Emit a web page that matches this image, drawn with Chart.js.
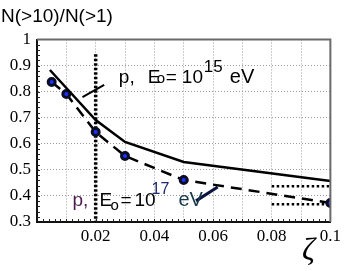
<!DOCTYPE html>
<html>
<head>
<meta charset="utf-8">
<script src="https://cdn.jsdelivr.net/npm/chart.js@4.4.0/dist/chart.umd.min.js"></script>
<style>
  html, body { margin: 0; padding: 0; background: #fff; }
  #wrap { width: 345px; height: 271px; }
</style>
</head>
<body>
<div id="wrap"><canvas id="myChart" width="345" height="271"></canvas></div>
<script>
// values
let zeta_pts = [0.005, 0.01, 0.02, 0.03, 0.05, 0.1];
let ratio_17 = [0.837, 0.791, 0.645, 0.553, 0.461, 0.373];   // dashed + markers (E0=1e17)
let zeta_line = [0.0044, 0.02, 0.03, 0.05, 0.1];
let ratio_15 = [0.883, 0.691, 0.607, 0.530, 0.457];          // solid (E0=1e15)
let vline_x = [0.02, 0.02];
let vline_y = [0.943, 0.3];
let hline_x = [0.08, 0.1];
let hline_hi = [0.437, 0.437];
let hline_lo = [0.368, 0.368];
let ptr1_x = [0.0155, 0.0229];
let ptr1_y = [0.779, 0.826];
let ptr2_x = [0.0542, 0.0616];
let ptr2_y = [0.381, 0.434];
let x_ticks = [0.02, 0.04, 0.06, 0.08, 0.1];
let y_ticks = [0.3, 0.4, 0.5, 0.6, 0.7, 0.8, 0.9, 1];

let serif = "'Liberation Serif', 'DejaVu Serif', 'Times New Roman', serif";
let sans = "'Liberation Sans', Arial, Helvetica, sans-serif";

let toXY = function(xs, ys){
  let out = [];
  for(let i=0;i<xs.length;i++){
    out.push({x: xs[i], y: ys[i]});
  }
  return out;
}

// text annotations anchored in data units, pieces offset in px
let notes = [
  {x: 0.0279, y: 0.833, parts: [
    {t: "p,", dx: 0, dy: 0, s: 19, c: "#000"},
    {t: "E", dx: 29, dy: 0, s: 19, c: "#000"},
    {t: "o", dx: 38, dy: 0, s: 15, c: "#000"},
    {t: "=", dx: 47, dy: 0, s: 19, c: "#000"},
    {t: "10", dx: 63, dy: 0, s: 19, c: "#000"},
    {t: "15", dx: 85, dy: -11, s: 17, c: "#000"},
    {t: "eV", dx: 111, dy: 0, s: 20, c: "#000"}
  ]},
  {x: 0.0121, y: 0.361, parts: [
    {t: "p,", dx: 0, dy: 0, s: 19, c: "#4e1a50"},
    {t: "E", dx: 27, dy: 0, s: 19, c: "#000"},
    {t: "o", dx: 38, dy: 4, s: 15, c: "#000"},
    {t: "=", dx: 48, dy: 0, s: 19, c: "#000"},
    {t: "10", dx: 62, dy: 0, s: 19, c: "#000"},
    {t: "17", dx: 79, dy: -12, s: 16, c: "#1b2a6b"},
    {t: "eV", dx: 106, dy: 0, s: 20, c: "#173a4a"}
  ]}
];

let extras = {
  id: 'extras',
  afterDatasetsDraw(chart){
    let ctx = chart.ctx;
    let xs = chart.scales.x, ys = chart.scales.y;
    let a = chart.chartArea;
    ctx.save();
    // frame top / right
    ctx.strokeStyle = '#6a6a6a';
    ctx.lineWidth = 2;
    ctx.beginPath();
    ctx.moveTo(a.left, a.top);
    ctx.lineTo(a.right, a.top);
    ctx.lineTo(a.right, a.bottom);
    ctx.stroke();
    // minor ticks
    ctx.strokeStyle = '#222';
    ctx.lineWidth = 1;
    ctx.beginPath();
    for(let i=1;i<50;i++){
      let px = Math.round(xs.getPixelForValue(i*0.002)) + 0.5;
      ctx.moveTo(px, a.bottom);
      ctx.lineTo(px, a.bottom - 3);
    }
    for(let i=1;i<35;i++){
      let py = Math.round(ys.getPixelForValue(0.3 + i*0.02)) + 0.5;
      ctx.moveTo(a.left, py);
      ctx.lineTo(a.left + 3, py);
    }
    ctx.stroke();
    // annotations
    ctx.textBaseline = 'alphabetic';
    ctx.textAlign = 'left';
    notes.forEach(function(n){
      let bx = xs.getPixelForValue(n.x), by = ys.getPixelForValue(n.y);
      n.parts.forEach(function(p){
        ctx.font = p.s + 'px ' + sans;
        ctx.fillStyle = p.c;
        ctx.fillText(p.t, bx + p.dx, by + p.dy);
      });
    });
    // axis titles
    ctx.fillStyle = '#000';
    ctx.font = '19px ' + sans;
    ctx.fillText('N(>10)/N(>1)', 1, 22);
    ctx.font = 'italic 32px ' + serif;
    ctx.fillText('ζ', 302, 260);
    ctx.restore();
  }
};

let dotted = [2.5, 2.5];

cur_chart = new Chart(
  document.getElementById('myChart'),
  {
    type: 'line',
    data: {
      datasets: [
        {
          label: 'E0=1e15',
          data: toXY(zeta_line, ratio_15),
          borderColor: '#000',
          borderWidth: 2.5,
          pointRadius: 0,
          tension: 0
        },
        {
          label: 'E0=1e17',
          data: toXY(zeta_pts, ratio_17),
          borderColor: '#000',
          borderWidth: 2.5,
          borderDash: [11, 7],
          pointRadius: 3.5,
          pointBorderWidth: 3,
          pointBorderColor: '#0a0d25',
          pointBackgroundColor: '#1f30ff',
          tension: 0
        },
        {
          label: 'vline',
          data: toXY(vline_x, vline_y),
          borderColor: '#000',
          borderWidth: 3.5,
          borderDash: [2.5, 2],
          pointRadius: 0
        },
        {
          label: 'hhi',
          data: toXY(hline_x, hline_hi),
          borderColor: '#000',
          borderWidth: 2.5,
          borderDash: dotted,
          pointRadius: 0
        },
        {
          label: 'hlo',
          data: toXY(hline_x, hline_lo),
          borderColor: '#000',
          borderWidth: 2.5,
          borderDash: dotted,
          pointRadius: 0
        },
        {
          label: 'ptr1',
          data: toXY(ptr1_x, ptr1_y),
          borderColor: '#000',
          borderWidth: 2,
          pointRadius: 0
        },
        {
          label: 'ptr2',
          data: toXY(ptr2_x, ptr2_y),
          borderColor: '#0d1240',
          borderWidth: 3,
          pointRadius: 0
        }
      ]
    },
    options: {
      responsive: false,
      animation: false,
      events: [],
      layout: { padding: { top: 39.5, right: 11, left: 0, bottom: 0 } },
      plugins: {
        legend: { display: false },
        tooltip: { enabled: false },
        title: { display: false }
      },
      scales: {
        x: {
          type: 'linear',
          min: 0,
          max: 0.1,
          afterFit: function(s){ s.height = 49; },
          afterBuildTicks: function(s){
            let t = [];
            for(let i=0;i<=10;i++){ t.push({value: i/100}); }
            s.ticks = t;
          },
          ticks: {
            padding: 4,
            maxRotation: 0,
            autoSkip: false,
            color: '#000',
            font: { family: serif, size: 17 },
            callback: function(v){
              let k = Math.round(v*100);
              for(let i=0;i<x_ticks.length;i++){
                if(Math.round(x_ticks[i]*100)==k){ return String(x_ticks[i]); }
              }
              return '';
            }
          },
          grid: { color: '#9a9a9a', lineWidth: 1, tickLength: 0 },
          border: { display: true, color: '#111', width: 2, dash: [1, 2] }
        },
        y: {
          type: 'linear',
          min: 0.3,
          max: 1,
          afterFit: function(s){ s.width = 37; },
          afterBuildTicks: function(s){
            s.ticks = y_ticks.map(function(v){ return {value: v}; });
          },
          ticks: {
            padding: 6,
            autoSkip: false,
            color: '#000',
            font: { family: serif, size: 17 },
            callback: function(v){ return v==1 ? '1' : v.toFixed(1); }
          },
          grid: { color: '#9a9a9a', lineWidth: 1, tickLength: 0 },
          border: { display: true, color: '#111', width: 2, dash: [1, 2] }
        }
      }
    },
    plugins: [extras]
  }
);
</script>
</body>
</html>
